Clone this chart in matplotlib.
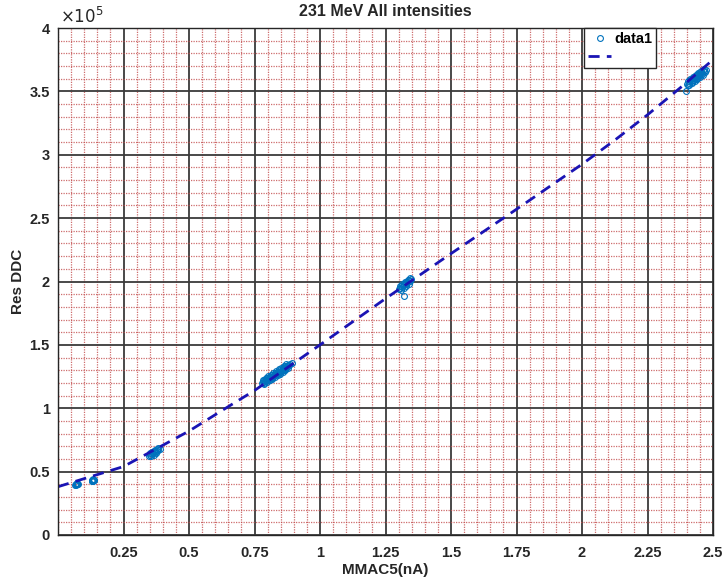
import matplotlib
matplotlib.use("Agg")
import matplotlib.pyplot as plt
from matplotlib.ticker import MultipleLocator, FixedLocator
import numpy as np

plt.rcParams['font.family'] = ['Liberation Sans', 'DejaVu Sans']

# ---- data (y in units of 1e5) ----
c1_x = [0.066, 0.069, 0.071, 0.073, 0.075, 0.070, 0.072, 0.068]
c1_y = [0.398, 0.402, 0.400, 0.405, 0.403, 0.396, 0.408, 0.404]
c2_x = [0.128, 0.131, 0.134, 0.136, 0.138, 0.132, 0.135, 0.130]
c2_y = [0.425, 0.429, 0.431, 0.435, 0.437, 0.423, 0.439, 0.433]
c3_x = [0.346, 0.352, 0.358, 0.364, 0.370, 0.376, 0.382, 0.388,
        0.350, 0.360, 0.370, 0.380,
        0.355, 0.365, 0.375, 0.357, 0.367, 0.377]
c3_y = [0.625, 0.633, 0.641, 0.649, 0.657, 0.664, 0.672, 0.680,
        0.645, 0.658, 0.672, 0.685,
        0.622, 0.635, 0.648, 0.651, 0.664, 0.676]
c4_x = [0.778, 0.784, 0.790, 0.796, 0.802, 0.808, 0.814, 0.820, 0.826, 0.832,
        0.838, 0.844, 0.850, 0.856, 0.862, 0.868, 0.874, 0.880, 0.886, 0.892,
        0.782, 0.792, 0.802, 0.812, 0.822, 0.832, 0.842, 0.852, 0.862, 0.872,
        0.788, 0.798, 0.808, 0.818, 0.828, 0.838, 0.848, 0.858, 0.868, 0.878,
        0.787, 0.797, 0.807, 0.817, 0.827, 0.837, 0.847, 0.857, 0.867, 0.877,
        0.785, 0.795, 0.805, 0.815, 0.825, 0.835, 0.845, 0.855, 0.865, 0.875]
c4_y = [1.198, 1.207, 1.215, 1.223, 1.231, 1.239, 1.248, 1.256, 1.264, 1.272,
        1.281, 1.289, 1.297, 1.305, 1.313, 1.322, 1.330, 1.338, 1.346, 1.355,
        1.223, 1.238, 1.251, 1.265, 1.279, 1.292, 1.306, 1.320, 1.333, 1.347,
        1.192, 1.206, 1.219, 1.233, 1.247, 1.261, 1.274, 1.288, 1.302, 1.316,
        1.221, 1.235, 1.248, 1.262, 1.276, 1.289, 1.303, 1.317, 1.330, 1.344,
        1.200, 1.214, 1.228, 1.241, 1.255, 1.269, 1.282, 1.296, 1.310, 1.323]
c5_x = [1.300, 1.307, 1.314, 1.321, 1.328, 1.335, 1.342, 1.349,
        1.304, 1.314, 1.324, 1.334, 1.344,
        1.310, 1.320, 1.330, 1.340,
        1.309, 1.319, 1.329, 1.339,
        1.320]
c5_y = [1.937, 1.949, 1.960, 1.972, 1.983, 1.995, 2.007, 2.018,
        1.964, 1.980, 1.997, 2.013, 2.030,
        1.934, 1.950, 1.967, 1.983,
        1.962, 1.978, 1.995, 2.012,
        1.886]
c6_x = [2.400, 2.408, 2.416, 2.424, 2.432, 2.440, 2.448, 2.456, 2.464, 2.472,
        2.404, 2.414, 2.424, 2.434, 2.444, 2.454, 2.464,
        2.410, 2.420, 2.430, 2.440, 2.450, 2.460,
        2.412, 2.422, 2.432, 2.442, 2.452, 2.462,
        2.406, 2.418, 2.428, 2.438, 2.448, 2.458, 2.468,
        2.397]
c6_y = [3.555, 3.568, 3.581, 3.593, 3.606, 3.619, 3.632, 3.645, 3.657, 3.670,
        3.581, 3.597, 3.613, 3.629, 3.645, 3.661, 3.677,
        3.551, 3.567, 3.583, 3.599, 3.615, 3.631,
        3.587, 3.603, 3.619, 3.635, 3.651, 3.667,
        3.553, 3.573, 3.589, 3.605, 3.621, 3.637, 3.653,
        3.500]

fit_x = [0.0, 0.25, 0.5, 0.65, 0.75, 1.0, 1.25, 1.5, 1.75, 2.0, 2.125, 2.25, 2.375, 2.5]
fit_y = [0.381, 0.540, 0.820, 1.013, 1.140, 1.500, 1.865, 2.220, 2.570, 2.925, 3.115, 3.315, 3.528, 3.750]

x_ticks = [0.25, 0.5, 0.75, 1, 1.25, 1.5, 1.75, 2, 2.25, 2.5]
x_tick_labels = ["0.25", "0.5", "0.75", "1", "1.25", "1.5", "1.75", "2", "2.25", "2.5"]
y_ticks = [0, 0.5, 1, 1.5, 2, 2.5, 3, 3.5, 4]
y_tick_labels = ["0", "0.5", "1", "1.5", "2", "2.5", "3", "3.5", "4"]
scale = 1e5

data_x = c1_x + c2_x + c3_x + c4_x + c5_x + c6_x
data_y = np.array(c1_y + c2_y + c3_y + c4_y + c5_y + c6_y) * scale

fig = plt.figure(figsize=(7.23, 5.82), dpi=100)
ax = fig.add_axes([58/723, 47/582, 655/723, 507/582])

ax.set_xlim(0, 2.5)
ax.set_ylim(0, 4 * scale)

ax.xaxis.set_major_locator(FixedLocator(x_ticks))
ax.set_xticklabels(x_tick_labels)
ax.yaxis.set_major_locator(FixedLocator([v * scale for v in y_ticks]))
ax.set_yticklabels(y_tick_labels)
ax.xaxis.set_minor_locator(MultipleLocator(0.05))
ax.yaxis.set_minor_locator(MultipleLocator(0.1 * scale))

ax.grid(which='minor', color='#c24a4a', linestyle=(0, (1, 1)), linewidth=0.9, alpha=0.8)
ax.grid(which='major', color='#3a3a3a', linestyle='-', linewidth=1.3)
ax.set_axisbelow(True)

ax.tick_params(which='both', direction='in', length=0, labelsize=10.5)
for lab in ax.get_xticklabels() + ax.get_yticklabels():
    lab.set_fontweight('bold')
    lab.set_color('#262626')
ax.tick_params(axis='x', pad=8)
ax.tick_params(axis='y', pad=6)

for s in ax.spines.values():
    s.set_color('#262626')
    s.set_linewidth(1.0)

pts, = ax.plot(data_x, data_y, linestyle='none', marker='o', markersize=4.2,
               markerfacecolor='none', markeredgecolor=(0, 0.447, 0.741), markeredgewidth=0.8)
fit, = ax.plot(fit_x, np.array(fit_y) * scale, linestyle=(0, (4, 2.6)), color='#1a14b4', linewidth=2.0)

leg = ax.legend([pts, fit], ['data1', ''], loc='upper left', bbox_to_anchor=(526/655, 1.0),
                borderaxespad=0, fancybox=False, framealpha=1, edgecolor='#262626', borderpad=0.3,
                handlelength=1.55, handletextpad=0.2, labelspacing=0.25,
                prop={'weight': 'bold', 'size': 10.5})
leg.get_frame().set_linewidth(1.0)

ax.set_title('231 MeV All intensities', fontsize=11.5, fontweight='bold', color='#262626', pad=9)
ax.set_xlabel('MMAC5(nA)', fontsize=11, fontweight='bold', color='#262626', labelpad=2)
ax.set_ylabel('Res DDC', fontsize=11, fontweight='bold', color='#262626', labelpad=3)
ax.text(0.003, 1.004, r'$\times 10^{5}$', transform=ax.transAxes, fontsize=12, color='#262626',
        ha='left', va='bottom')

fig.savefig('out.png', dpi=100)
